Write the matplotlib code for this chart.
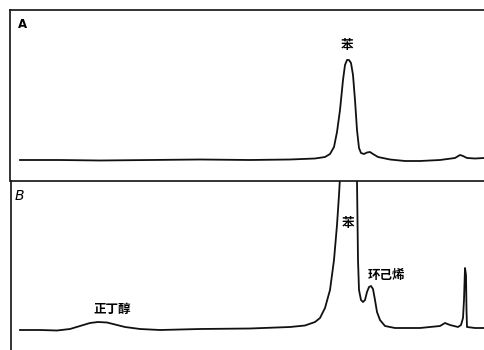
import matplotlib
matplotlib.use("Agg")
import matplotlib.pyplot as plt

plt.rcParams['font.family'] = ['Noto Sans CJK SC', 'DejaVu Sans']

# Trace A: retention position, detector response (relative)
time_a = [20, 60, 100, 150, 200, 250, 290, 315, 325, 330, 334, 337, 340, 343, 345, 347,
          349, 351, 353, 355, 357, 359, 361, 364, 367, 370, 373, 378, 390, 405, 420, 440,
          455, 460, 463, 467, 475, 484]
resp_a = [0, 0, -0.5, 0, 0.5, 0, 0.5, 1.5, 3, 6, 13, 28, 50, 80, 95, 100,
          100, 97, 85, 60, 30, 12, 7, 6, 7.5, 8, 6, 3, 0.5, -1, -1, 0,
          2, 5, 4, 2, 1.5, 2]

# Trace B
time_b = [20, 40, 57, 70, 80, 90, 98, 107, 115, 125, 140, 160, 200, 250, 290, 305, 315, 320,
          325, 330, 334, 337, 339, 341, 344, 348, 352, 355, 357, 357.5, 358, 359, 361,
          363, 365, 367, 369, 371, 373, 375, 377, 380, 385, 395, 420, 440, 445, 450,
          458, 461, 463, 464, 465, 466, 466.5, 467, 475, 484]
resp_b = [0, 0, -0.5, 1, 4, 7, 8, 7.5, 5.5, 3, 1, 0, 1, 1.5, 3, 4.5, 8, 12,
          22, 40, 70, 105, 135, 170, 200, 215, 205, 170, 149, 110, 70, 40, 30,
          28, 30, 38, 43, 44, 41, 30, 18, 10, 4, 2, 2, 4, 7, 5,
          3, 5, 12, 30, 62, 55, 20, 3, 2, 2]

W, H = 484, 350
fig = plt.figure(figsize=(W / 100, H / 100), dpi=100)
fig.patch.set_facecolor('white')

sep = 181
axA = fig.add_axes([10 / W, 1 - sep / H, 1.2, (sep - 10) / H])
axB = fig.add_axes([11 / W, 0, 1.2, (H - sep) / H])

for ax in (axA, axB):
    ax.set_xticks([])
    ax.set_yticks([])
    ax.spines['right'].set_visible(False)
    ax.spines['bottom'].set_visible(False)
    for s in ('left', 'top'):
        ax.spines[s].set_linewidth(1.2)
        ax.spines[s].set_color('#111111')
    ax.patch.set_alpha(0)

axA.set_xlim(10, 10 + 1.2 * W)
axA.set_ylim(160 - 181, 160 - 10)
axA.plot(time_a, resp_a, color='#111111', lw=1.3, solid_joinstyle='round')

axB.set_xlim(11, 11 + 1.2 * W)
axB.set_ylim(330 - 350, 330 - 181)
axB.plot(time_b, resp_b, color='#111111', lw=1.3, solid_joinstyle='round', clip_on=True)

def ftxt(x, y, s, **kw):
    fig.text(x / W, 1 - y / H, s, ha='center', va='center', **kw)

ftxt(22, 24, 'A', fontsize=8.5, fontweight='bold', family=['DejaVu Sans'])
ftxt(19, 196, 'B', fontsize=10, style='italic', family=['DejaVu Sans'])
ftxt(347, 46, '苯', fontsize=9, fontweight='bold')
ftxt(348, 223, '苯', fontsize=9, fontweight='bold')
ftxt(386, 276, '环己烯', fontsize=9, fontweight='bold')
ftxt(112, 310, '正丁醇', fontsize=9, fontweight='bold')

fig.savefig('out.png', dpi=100)
